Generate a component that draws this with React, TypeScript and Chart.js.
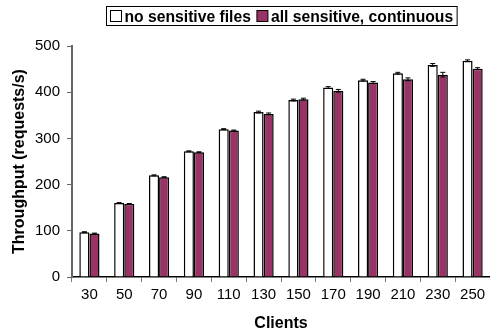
import React, { useEffect, useRef } from "react";
import { Chart, registerables } from "chart.js";

Chart.register(...registerables);

const clients = ["30", "50", "70", "90", "110", "130", "150", "170", "190", "210", "230", "250"];
const noSensitive = [97, 160, 220, 272, 320, 357, 383, 410, 426, 441, 459, 468];
const allSensitive = [94, 158, 216, 270, 317, 353, 385, 403, 421, 428, 438, 451];
const noSensitiveErr = [1, 1, 1, 1, 1, 2, 2, 2, 2, 2, 3, 2];
const allSensitiveErr = [1, 1, 1, 1, 1, 2, 2, 3, 2, 3, 5, 2];
const seriesNames = ["no sensitive files", "all sensitive, continuous"];
const seriesColors = ["#ffffff", "#993366"];
const yTicks = [0, 100, 200, 300, 400, 500];

const FONT = "'Liberation Sans', Arial, Helvetica, sans-serif";

const errorBarPlugin = {
  id: "errorBars",
  afterDatasetsDraw(chart: any) {
    const ctx = chart.ctx;
    const y = chart.scales.y;
    const errs = [noSensitiveErr, allSensitiveErr];
    ctx.save();
    ctx.strokeStyle = "#000";
    ctx.lineWidth = 1;
    chart.data.datasets.forEach((ds: any, di: number) => {
      const meta = chart.getDatasetMeta(di);
      meta.data.forEach((bar: any, i: number) => {
        const v = ds.data[i];
        const e = errs[di][i];
        const yt = y.getPixelForValue(v + e);
        const yb = y.getPixelForValue(v - e);
        const x = bar.x;
        ctx.beginPath();
        ctx.moveTo(x, yt);
        ctx.lineTo(x, yb);
        ctx.moveTo(x - 2.5, yt);
        ctx.lineTo(x + 2.5, yt);
        ctx.moveTo(x - 2.5, yb);
        ctx.lineTo(x + 2.5, yb);
        ctx.stroke();
      });
    });
    ctx.restore();
  },
};

const legendPlugin = {
  id: "boxLegend",
  afterDraw(chart: any) {
    const ctx = chart.ctx;
    const area = chart.chartArea;
    ctx.save();
    ctx.font = "bold 15.7px " + FONT;
    const w0 = ctx.measureText(seriesNames[0]).width;
    const w1 = ctx.measureText(seriesNames[1]).width;
    const box = 11;
    const total = 4 + box + 3 + w0 + 6 + box + 3 + w1 + 4;
    const cx = (area.left + area.right) / 2;
    const left = Math.round(cx - total / 2) + 0.5;
    const top = 6.5;
    const h = 19;
    ctx.strokeStyle = "#000";
    ctx.lineWidth = 1;
    ctx.strokeRect(left, top, total, h);
    let x = left + 4;
    const by = 10.5;
    ctx.fillStyle = seriesColors[0];
    ctx.fillRect(x, by, box, box);
    ctx.strokeRect(x, by, box, box);
    x += box + 3;
    ctx.fillStyle = "#000";
    ctx.textBaseline = "alphabetic";
    ctx.fillText(seriesNames[0], x, 21.5);
    x += w0 + 6;
    ctx.fillStyle = seriesColors[1];
    ctx.fillRect(x, by, box, box);
    ctx.strokeRect(x, by, box, box);
    x += box + 3;
    ctx.fillStyle = "#000";
    ctx.fillText(seriesNames[1], x, 21.5);
    ctx.restore();
  },
};

export default function App() {
  const ref = useRef<HTMLCanvasElement>(null);
  useEffect(() => {
    document.body.style.margin = "0";
    const chart = new Chart(ref.current as HTMLCanvasElement, {
      type: "bar",
      data: {
        labels: clients,
        datasets: [
          {
            label: seriesNames[0],
            data: noSensitive,
            backgroundColor: seriesColors[0],
            borderColor: "#000",
            borderWidth: 1.5,
            categoryPercentage: 0.58,
            barPercentage: 1,
          },
          {
            label: seriesNames[1],
            data: allSensitive,
            backgroundColor: seriesColors[1],
            borderColor: "#000",
            borderWidth: 1.5,
            categoryPercentage: 0.58,
            barPercentage: 1,
          },
        ],
      },
      options: {
        responsive: false,
        animation: false,
        layout: { padding: { top: 46, left: 10, right: 0, bottom: 0 } },
        plugins: {
          legend: { display: false },
          tooltip: { enabled: false },
        },
        scales: {
          x: {
            offset: true,
            grid: {
              display: true,
              offset: true,
              drawOnChartArea: false,
              drawTicks: true,
              tickLength: 5,
              color: "#777",
            },
            border: { color: "#000", width: 1.5 },
            ticks: { font: { family: FONT, size: 15 }, color: "#000", padding: 4 },
            title: {
              display: true,
              text: "Clients",
              font: { family: FONT, size: 16, weight: "bold" },
              color: "#000",
              padding: { top: 4, bottom: -4 },
            },
            afterFit(scale: any) {
              scale.height = 52;
            },
          },
          y: {
            min: 0,
            max: 500,
            afterBuildTicks(scale: any) {
              scale.ticks = yTicks.map((v) => ({ value: v }));
            },
            grid: {
              display: true,
              drawOnChartArea: false,
              drawTicks: true,
              tickLength: 5,
              color: "#666",
            },
            border: { color: "#666", width: 2 },
            ticks: { font: { family: FONT, size: 15 }, color: "#000", padding: 7 },
            title: {
              display: true,
              text: "Throughput (requests/s)",
              font: { family: FONT, size: 16, weight: "bold" },
              color: "#000",
              padding: { top: 0, bottom: 4 },
            },
            afterFit(scale: any) {
              scale.width = 62;
            },
          },
        },
      },
      plugins: [errorBarPlugin, legendPlugin],
    } as any);
    return () => chart.destroy();
  }, []);
  return (
    <div style={{ width: 490, height: 329 }}>
      <canvas ref={ref} width={490} height={329} />
    </div>
  );
}
